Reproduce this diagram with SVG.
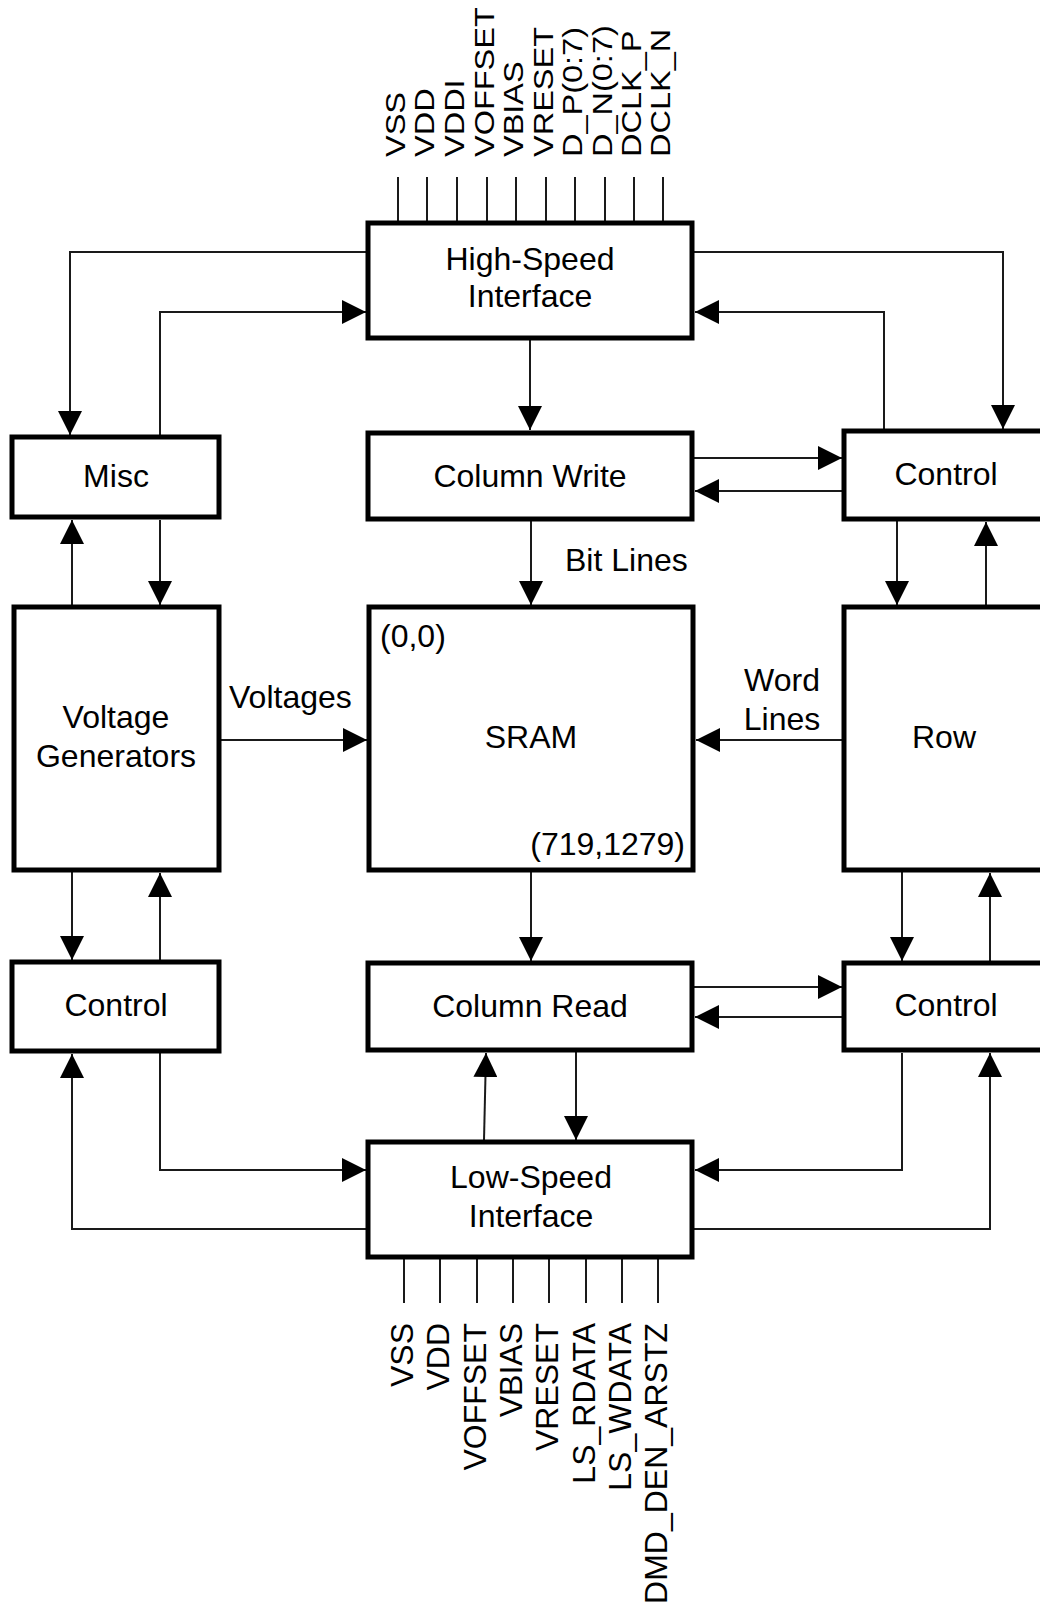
<svg xmlns="http://www.w3.org/2000/svg" width="1040" height="1610" viewBox="0 0 1040 1610">
<style>
  .box { fill: #fff; stroke: #000; stroke-width: 5; }
  .lbl { font-family: "Liberation Sans", Arial, sans-serif; font-size: 32px; fill: #000; }
  .mid { text-anchor: middle; }
  .con { fill: none; stroke: #1a1a1a; stroke-width: 2; marker-end: url(#ah); }
  .pin { fill: none; stroke: #1a1a1a; stroke-width: 2; }
  .pt { font-family: "Liberation Sans", Arial, sans-serif; font-size: 32.5px; fill: #000; }
  .pb { font-family: "Liberation Sans", Arial, sans-serif; font-size: 32px; fill: #000; text-anchor: end; }
</style>
<defs>
  <marker id="ah" viewBox="0 0 24 24" markerWidth="24" markerHeight="24" refX="24" refY="12" orient="auto" markerUnits="userSpaceOnUse">
    <path d="M0,0 L24,12 L0,24 z" fill="#000"/>
  </marker>
</defs>
<rect width="1040" height="1610" fill="#fff"/>

<g id="connectors">
  <path class="con" d="M366,252 H70 V435"/>
  <path class="con" d="M160,435 V312 H366"/>
  <path class="con" d="M72,605 V520"/>
  <path class="con" d="M160,520 V605"/>
  <path class="con" d="M72,872 V960"/>
  <path class="con" d="M160,960 V873"/>
  <path class="con" d="M160,1053 V1170 H366"/>
  <path class="con" d="M366,1229 H72 V1054"/>
  <path class="con" d="M221,740 H367"/>
  <path class="con" d="M694,252 H1003 V429"/>
  <path class="con" d="M884,429 V312 H695"/>
  <path class="con" d="M694,458 H842"/>
  <path class="con" d="M842,491 H695"/>
  <path class="con" d="M897,521 V605"/>
  <path class="con" d="M986,605 V522"/>
  <path class="con" d="M842,740 H696"/>
  <path class="con" d="M902,872 V961"/>
  <path class="con" d="M990,961 V873"/>
  <path class="con" d="M694,987 H842"/>
  <path class="con" d="M842,1017 H695"/>
  <path class="con" d="M902,1053 V1170 H695"/>
  <path class="con" d="M694,1229 H990 V1053"/>
  <path class="con" d="M530,340 V430"/>
  <path class="con" d="M531,521 V605"/>
  <path class="con" d="M531,872 V961"/>
  <path class="con" d="M484,1140 L486,1053"/>
  <path class="con" d="M576,1052 V1140"/>
  <text class="lbl" x="229" y="708">Voltages</text>
  <text class="lbl" x="565" y="571">Bit Lines</text>
  <text class="lbl mid" x="782" y="691">Word</text>
  <text class="lbl mid" x="782" y="730">Lines</text>
</g>

<g id="pins-top">
  <path class="pin" d="M398,177 V221 M427,177 V221 M457,177 V221 M487,177 V221 M516,177 V221 M546,177 V221 M575,177 V221 M605,177 V221 M634,177 V221 M663,177 V221"/>
  <text class="pt" transform="translate(405,157) rotate(-90) scale(1,0.84)">VSS</text>
  <text class="pt" transform="translate(434,157) rotate(-90) scale(1,0.84)">VDD</text>
  <text class="pt" transform="translate(464,157) rotate(-90) scale(1,0.84)">VDDI</text>
  <text class="pt" transform="translate(494,157) rotate(-90) scale(1,0.84)">VOFFSET</text>
  <text class="pt" transform="translate(523,157) rotate(-90) scale(1,0.84)">VBIAS</text>
  <text class="pt" transform="translate(553,157) rotate(-90) scale(1,0.84)">VRESET</text>
  <text class="pt" transform="translate(582,157) rotate(-90) scale(1,0.84)">D_P(0:7)</text>
  <text class="pt" transform="translate(612,157) rotate(-90) scale(1,0.84)">D_N(0:7)</text>
  <text class="pt" transform="translate(641,157) rotate(-90) scale(1,0.84)">DCLK_P</text>
  <text class="pt" transform="translate(670,157) rotate(-90) scale(1,0.84)">DCLK_N</text>
</g>

<g id="pins-bottom">
  <path class="pin" d="M404,1259 V1303 M440,1259 V1303 M477,1259 V1303 M513,1259 V1303 M549,1259 V1303 M586,1259 V1303 M622,1259 V1303 M658,1259 V1303"/>
  <text class="pb" transform="translate(413,1323) rotate(-90)">VSS</text>
  <text class="pb" transform="translate(449,1323) rotate(-90)">VDD</text>
  <text class="pb" transform="translate(486,1323) rotate(-90)">VOFFSET</text>
  <text class="pb" transform="translate(522,1323) rotate(-90)">VBIAS</text>
  <text class="pb" transform="translate(558,1323) rotate(-90)">VRESET</text>
  <text class="pb" transform="translate(595,1323) rotate(-90)">LS_RDATA</text>
  <text class="pb" transform="translate(631,1323) rotate(-90)">LS_WDATA</text>
  <text class="pb" transform="translate(667,1323) rotate(-90)">DMD_DEN_ARSTZ</text>
</g>

<g id="hs">
  <rect class="box" x="368" y="223" width="324" height="115"/>
  <text class="lbl mid" x="530" y="270">High-Speed</text>
  <text class="lbl mid" x="530" y="307">Interface</text>
</g>
<g id="colwrite">
  <rect class="box" x="368" y="433" width="324" height="86"/>
  <text class="lbl mid" x="530" y="487">Column Write</text>
</g>
<g id="sram">
  <rect class="box" x="369" y="607" width="324" height="263"/>
  <text class="lbl" x="380" y="647">(0,0)</text>
  <text class="lbl mid" x="531" y="748">SRAM</text>
  <text class="lbl" x="685" y="855" text-anchor="end">(719,1279)</text>
</g>
<g id="colread">
  <rect class="box" x="368" y="963" width="324" height="87"/>
  <text class="lbl mid" x="530" y="1017">Column Read</text>
</g>
<g id="ls">
  <rect class="box" x="368" y="1142" width="324" height="115"/>
  <text class="lbl mid" x="531" y="1188">Low-Speed</text>
  <text class="lbl mid" x="531" y="1227">Interface</text>
</g>
<g id="misc">
  <rect class="box" x="12" y="437" width="207" height="80"/>
  <text class="lbl mid" x="116" y="487">Misc</text>
</g>
<g id="voltgen">
  <rect class="box" x="14" y="607" width="205" height="263"/>
  <text class="lbl mid" x="116" y="728">Voltage</text>
  <text class="lbl mid" x="116" y="767">Generators</text>
</g>
<g id="control-left">
  <rect class="box" x="12" y="962" width="207" height="89"/>
  <text class="lbl mid" x="116" y="1016">Control</text>
</g>
<g id="control-right-top">
  <rect class="box" x="844" y="431" width="210" height="88"/>
  <text class="lbl mid" x="946" y="485">Control</text>
</g>
<g id="row">
  <rect class="box" x="844" y="607" width="210" height="263"/>
  <text class="lbl mid" x="944" y="748">Row</text>
</g>
<g id="control-right-bottom">
  <rect class="box" x="844" y="963" width="210" height="87"/>
  <text class="lbl mid" x="946" y="1016">Control</text>
</g>
</svg>
